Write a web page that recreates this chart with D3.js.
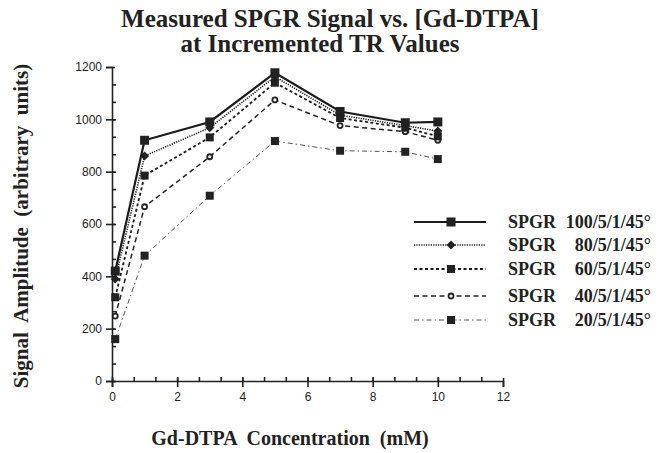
<!DOCTYPE html>
<html>
<head>
<meta charset="utf-8">
<script src="https://cdn.jsdelivr.net/npm/d3@7"></script>
<style>
  body { margin: 0; background: #fff; }
  .axis text { font-family: "Liberation Sans", Arial, sans-serif; font-size: 12px; fill: #222; }
  .axis path, .axis line { stroke: #222; stroke-width: 1.6; }
  .lbl { font-family: "Liberation Serif", "Times New Roman", serif; font-weight: bold; fill: #222; white-space: pre; }
</style>
</head>
<body>
<div id="chart"></div>
<script>
// data
const conc = [0.1, 1, 3, 5, 7, 9, 10];
const seriesNames = ["100/5/1/45°", "80/5/1/45°", "60/5/1/45°", "40/5/1/45°", "20/5/1/45°"];
const tr100 = [420, 920, 990, 1178, 1030, 987, 990];
const tr80 = [390, 860, 968, 1163, 1016, 976, 955];
const tr60 = [320, 785, 931, 1140, 1005, 968, 935];
const tr40 = [248, 666, 857, 1074, 976, 953, 920];
const tr20 = [160, 479, 708, 917, 880, 876, 848];
const yTicks = [0, 200, 400, 600, 800, 1000, 1200];
const xTicks = [0, 2, 4, 6, 8, 10, 12];

const width = 662, height = 453;

const svg = d3.select("#chart").append("svg")
    .attr("width", width)
    .attr("height", height);

const xScale = d3.scaleLinear().domain([0, 12]).range([112, 503]);
const yScale = d3.scaleLinear().domain([0, 1200]).range([381, 67]);

/* AXES */
svg.append("g").attr("class", "axis")
    .attr("transform", `translate(${xScale(0)},0)`)
    .call(d3.axisLeft(yScale).tickValues(yTicks).tickSize(6).tickPadding(4).tickFormat(d3.format("d")))
    .call(g => g.selectAll(".tick line").attr("x2", -6).attr("x1", 3));

svg.append("g").attr("class", "axis")
    .attr("transform", `translate(${xScale(0)},0)`)
    .call(d3.axisRight(yScale).tickValues(d3.range(0, 1200, 200 / 3)).tickSize(4).tickFormat(""))
    .call(g => g.select(".domain").remove());

svg.append("g").attr("class", "axis")
    .attr("transform", `translate(0,${yScale(0)})`)
    .call(d3.axisBottom(xScale).tickValues(xTicks).tickSize(6).tickPadding(5))
    .call(g => g.selectAll(".tick line").attr("y1", -3));

svg.append("g").attr("class", "axis")
    .attr("transform", `translate(0,${yScale(0)})`)
    .call(d3.axisTop(xScale).tickValues(d3.range(0, 12, 2 / 3)).tickSize(4).tickFormat(""))
    .call(g => g.select(".domain").remove());

/* SERIES */
const series = [
    {name: seriesNames[0], values: tr100, dash: null, width: 2.2, color: "#1a1a1a", marker: "square", size: 9},
    {name: seriesNames[1], values: tr80, dash: "1.2,1.2", width: 1.6, color: "#1a1a1a", marker: "diamond", size: 8},
    {name: seriesNames[2], values: tr60, dash: "3,2.5", width: 1.8, color: "#1a1a1a", marker: "square", size: 8},
    {name: seriesNames[3], values: tr40, dash: "5,3.5", width: 1.5, color: "#222", marker: "circle", size: 5},
    {name: seriesNames[4], values: tr20, dash: "5,3,1.5,3", width: 1, color: "#555", marker: "square", size: 8}
];

const line = d3.line()
    .x((d, i) => xScale(conc[i]))
    .y(d => yScale(d));

function drawMarker(g, s, cx, cy) {
    if (s.marker === "square") {
        g.append("rect")
            .attr("x", cx - s.size / 2).attr("y", cy - s.size / 2)
            .attr("width", s.size).attr("height", s.size)
            .attr("fill", "#222");
    } else if (s.marker === "diamond") {
        const r = s.size / 2 + 0.5;
        g.append("path")
            .attr("d", `M${cx},${cy - r}L${cx + r},${cy}L${cx},${cy + r}L${cx - r},${cy}Z`)
            .attr("fill", "#222");
    } else {
        g.append("circle")
            .attr("cx", cx).attr("cy", cy).attr("r", s.size / 2)
            .attr("fill", "#fff").attr("stroke", "#222").attr("stroke-width", 1.8);
    }
}

series.slice().reverse().forEach(s => {
    const g = svg.append("g");
    g.append("path")
        .datum(s.values)
        .attr("d", line)
        .attr("fill", "none")
        .attr("stroke", s.color)
        .attr("stroke-width", s.width)
        .attr("stroke-dasharray", s.dash);
    s.values.forEach((v, i) => drawMarker(g, s, xScale(conc[i]), yScale(v)));
});

/* LEGEND */
const legendY = [222, 245, 269, 296, 320];
series.forEach((s, i) => {
    const g = svg.append("g");
    const y = legendY[i];
    g.append("line")
        .attr("x1", 414).attr("x2", 486).attr("y1", y).attr("y2", y)
        .attr("stroke", s.color).attr("stroke-width", s.width)
        .attr("stroke-dasharray", s.dash);
    drawMarker(g, s, 451, y);
    g.append("text").attr("class", "lbl")
        .attr("x", 508).attr("y", y + 6)
        .style("font-size", "18px")
        .text("SPGR");
    g.append("text").attr("class", "lbl")
        .attr("x", 651).attr("y", y + 6)
        .attr("text-anchor", "end")
        .style("font-size", "18px")
        .text(s.name);
});

/* TITLE + AXIS LABELS */
svg.append("text").attr("class", "lbl")
    .attr("x", 330).attr("y", 27)
    .attr("text-anchor", "middle")
    .style("font-size", "25px")
    .text("Measured SPGR Signal vs. [Gd-DTPA]");

svg.append("text").attr("class", "lbl")
    .attr("x", 320).attr("y", 52)
    .attr("text-anchor", "middle")
    .style("font-size", "25px")
    .text("at Incremented TR Values");

svg.append("text").attr("class", "lbl")
    .attr("transform", "rotate(-90)")
    .attr("x", -226).attr("y", 28)
    .attr("text-anchor", "middle")
    .style("font-size", "21px")
    .text("Signal  Amplitude  (arbitrary  units)");

svg.append("text").attr("class", "lbl")
    .attr("x", 290).attr("y", 445)
    .attr("text-anchor", "middle")
    .style("font-size", "20px")
    .text("Gd-DTPA  Concentration  (mM)");
</script>
</body>
</html>
